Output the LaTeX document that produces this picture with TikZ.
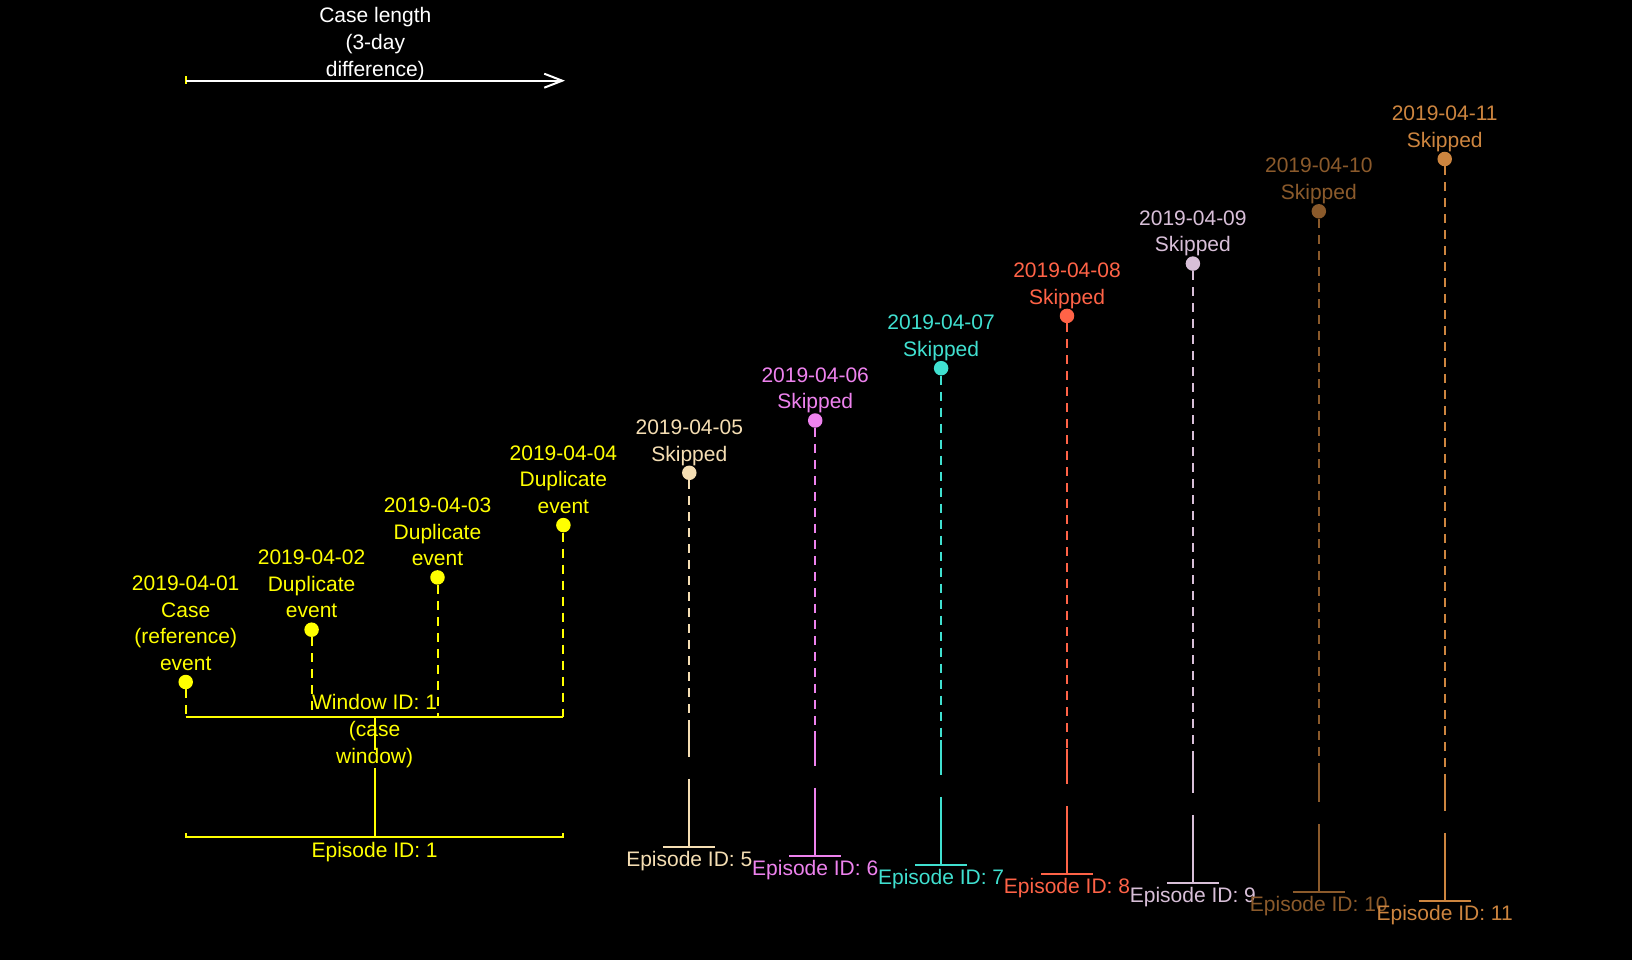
\documentclass[tikz,border=0pt]{standalone}
\usepackage{fontspec}
\setmainfont{Liberation Sans}
\usetikzlibrary{arrows.meta}
\definecolor{cy}{HTML}{FFFF00}
\definecolor{c5}{HTML}{F5DEB3}
\definecolor{c6}{HTML}{EE82EE}
\definecolor{c7}{HTML}{40E0D0}
\definecolor{c8}{HTML}{FF6347}
\definecolor{c9}{HTML}{D8BFD8}
\definecolor{c10}{HTML}{8B5A2B}
\definecolor{c11}{HTML}{CD853F}
\begin{document}
\begin{tikzpicture}[x=1pt,y=-1pt,
  every node/.style={font=\fontsize{21}{26.6}\selectfont, inner sep=0pt, align=center},
  dot/.style={circle, fill=#1, minimum size=14.5pt, inner sep=0pt},
  conn/.style={line width=2pt, draw=#1},
  dashconn/.style={line width=2pt, draw=#1, dash pattern=on 9pt off 7pt}]
\fill[black] (0,0) rectangle (1632,960);
\useasboundingbox (0,0) rectangle (1632,960);

% ---- case length arrow
\coordinate (caseL) at (185.7,80.7);
\coordinate (caseR) at (565,80.7);
\coordinate (tickT) at (185.7,76.5);
\coordinate (tickB) at (185.7,84.5);
\draw[conn=cy] (tickT) -- (tickB);
\draw[conn=white, -{Straight Barb[length=18pt,width=14pt,line width=2pt]}] (caseL) -- (caseR);
\node[anchor=south, text=white] (caselab) at (375.3,84.2) {Case length\\(3-day\\difference)\strut};

% ---- episode 1 (events 1-4)
\node[dot=cy] (d1) at (185.7,682) {};
\node[dot=cy] (d2) at (311.6,629.7) {};
\node[dot=cy] (d3) at (437.5,577.4) {};
\node[dot=cy] (d4) at (563.4,525.1) {};
\coordinate (w1a) at (185.7,716.7);
\coordinate (w1b) at (311.6,716.7);
\coordinate (w1c) at (437.5,716.7);
\coordinate (w1d) at (563.4,716.7);
\coordinate (w1m) at (374.6,716.7);
\coordinate (g1a) at (374.6,750);
\coordinate (g1b) at (374.6,768.3);
\coordinate (b1m) at (374.6,837.3);
\coordinate (b1l) at (185.7,837.3);
\coordinate (b1r) at (563.4,837.3);
\coordinate (b1lt) at (185.7,833);
\coordinate (b1rt) at (563.4,833);
\draw[dashconn=cy] (d1) -- (w1a);
\draw[dashconn=cy] (d2) -- (w1b);
\draw[dashconn=cy] (d3) -- (w1c);
\draw[dashconn=cy] (d4) -- (w1d);
\draw[conn=cy] (w1a) -- (w1d);
\draw[conn=cy] (w1m) -- (g1a);
\draw[conn=cy] (g1b) -- (b1m);
\draw[conn=cy] (b1lt) -- (b1l) -- (b1r) -- (b1rt);
\node[anchor=south, text=cy] (l1) at (185.7,678.45) {2019-04-01\\Case\\(reference)\\event\strut};
\node[anchor=south, text=cy] (l2) at (311.6,626.15) {2019-04-02\\Duplicate\\event\strut};
\node[anchor=south, text=cy] (l3) at (437.5,573.85) {2019-04-03\\Duplicate\\event\strut};
\node[anchor=south, text=cy] (l4) at (563.4,521.55) {2019-04-04\\Duplicate\\event\strut};
\node[anchor=south, text=cy] (wl1) at (374.6,771.3) {Window ID: 1\\(case\\window)\strut};
\node[anchor=base, text=cy] (e1) at (374.6,857) {Episode ID: 1};

% ---- episodes 5-11 (skipped events)
\foreach \k/\col/\date [evaluate=\k as \x using 185.7+125.9*(\k-1),
                        evaluate=\k as \yd using 682-52.3*(\k-1),
                        evaluate=\k as \j using \k-5] in
  {5/c5/2019-04-05, 6/c6/2019-04-06, 7/c7/2019-04-07, 8/c8/2019-04-08,
   9/c9/2019-04-09, 10/c10/2019-04-10, 11/c11/2019-04-11}{
  \pgfmathsetmacro{\yw}{722+9*\j}
  \pgfmathsetmacro{\ya}{757+9*\j}
  \pgfmathsetmacro{\yb}{778.5+9.1*\j}
  \pgfmathsetmacro{\ye}{846.7+9*\j}
  \node[dot=\col] (d\k) at (\x,\yd) {};
  \coordinate (w\k) at (\x,\yw);
  \coordinate (ga\k) at (\x,\ya);
  \coordinate (gb\k) at (\x,\yb);
  \coordinate (b\k) at (\x,\ye);
  \coordinate (bl\k) at (\x-26,\ye);
  \coordinate (br\k) at (\x+26,\ye);
  \draw[dashconn=\col] (d\k) -- (w\k);
  \draw[conn=\col] (w\k) -- (ga\k);
  \draw[conn=\col] (gb\k) -- (b\k);
  \draw[conn=\col] (bl\k) -- (br\k);
  \node[anchor=south, text=\col] (l\k) at (\x,\yd-3.55) {\date\\Skipped\strut};
  \node[anchor=base, text=\col] (e\k) at (\x,\ye+19.5) {Episode ID: \k};
}
\end{tikzpicture}
\end{document}
